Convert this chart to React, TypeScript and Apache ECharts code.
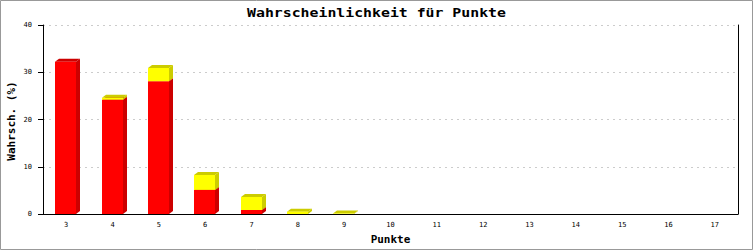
import React, { useEffect, useRef } from "react";
import * as echarts from "echarts";

const categories = ["3", "4", "5", "6", "7", "8", "9", "10", "11", "12", "13", "14", "15", "16", "17"];
const redValues = [32.2, 24.2, 28.1, 5.1, 0.85, 0, 0, 0, 0, 0, 0, 0, 0, 0, 0];
const yellowValues = [0, 0.4, 2.8, 3.15, 2.75, 0.5, 0.1, 0, 0, 0, 0, 0, 0, 0, 0];
const yTicks = { min: 0, max: 40, interval: 10 };
const titleText = "Wahrscheinlichkeit für Punkte";
const xName = "Punkte";
const yName = "Wahrsch. (%)";

const MONO = '"DejaVu Sans Mono", monospace';

function make3dRender(front: string, shade: string) {
  return (params: any, api: any) => {
    const i = api.value(0);
    const b = api.value(1);
    const t = api.value(2);
    if (!(t > b)) return null;
    const pb = api.coord([i, b]);
    const pt = api.coord([i, t]);
    const w = 21;
    const dx = 4;
    const dy = 3;
    const x0 = Math.round(pb[0]) - 11;
    const x1 = x0 + w;
    const yb = pb[1];
    const yt = pt[1];
    return {
      type: "group",
      children: [
        {
          type: "polygon",
          shape: { points: [[x1, yb], [x1 + dx, yb - dy], [x1 + dx, yt - dy], [x1, yt]] },
          style: { fill: shade },
        },
        {
          type: "polygon",
          shape: { points: [[x0, yt], [x0 + dx, yt - dy], [x1 + dx, yt - dy], [x1, yt]] },
          style: { fill: shade },
        },
        {
          type: "rect",
          shape: { x: x0, y: yt, width: w, height: yb - yt },
          style: { fill: front },
        },
      ],
    };
  };
}

export default function App() {
  const ref = useRef<HTMLDivElement>(null);
  useEffect(() => {
    if (!ref.current) return;
    const chart = echarts.init(ref.current, undefined, { renderer: "svg" });
    const redData = categories.map((_, i) => [i, 0, redValues[i]]);
    const yellowData = categories.map((_, i) => [i, redValues[i], redValues[i] + yellowValues[i]]);
    chart.setOption({
      animation: false,
      backgroundColor: "#ffffff",
      grid: { left: 43, right: 15, top: 25, bottom: 36, containLabel: false, outerBoundsMode: "none" },
      graphic: [
        {
          type: "rect",
          shape: { x: 0.5, y: 0.5, width: 752, height: 249 },
          style: { fill: "none", stroke: "#999999", lineWidth: 1 },
          silent: true,
        },
        {
          type: "text",
          x: 376.5,
          y: 13,
          scaleX: 1.29,
          style: {
            text: titleText,
            font: `bold 11.5px ${MONO}`,
            fill: "#000",
            textAlign: "center",
            textVerticalAlign: "middle",
          },
        },
        {
          type: "text",
          x: 11.5,
          y: 121,
          rotation: Math.PI / 2,
          style: {
            text: yName,
            font: `bold 11px ${MONO}`,
            fill: "#000",
            textAlign: "center",
            textVerticalAlign: "middle",
          },
        },
      ],
      xAxis: {
        type: "category",
        data: categories,
        boundaryGap: true,
        name: xName,
        nameLocation: "middle",
        nameGap: 20,
        nameTextStyle: { fontFamily: MONO, fontWeight: "bold", fontSize: 11, color: "#000" },
        axisLine: { show: true, lineStyle: { color: "#000", width: 1 } },
        axisTick: { show: false },
        axisLabel: { fontFamily: MONO, fontSize: 7, color: "#000", margin: 7, interval: 0 },
        splitLine: { show: false },
      },
      yAxis: [
        {
          type: "value",
          min: yTicks.min,
          max: yTicks.max,
          interval: yTicks.interval,
          axisLine: { show: true, lineStyle: { color: "#000", width: 1 } },
          axisTick: { show: true, length: 5, lineStyle: { color: "#000" } },
          axisLabel: { fontFamily: MONO, fontSize: 7, color: "#000", margin: 11 },
          splitLine: { show: true, lineStyle: { color: "#cccccc", type: [2, 4], width: 1 } },
        },
        {
          type: "value",
          position: "right",
          min: yTicks.min,
          max: yTicks.max,
          interval: yTicks.interval,
          axisLine: { show: true, lineStyle: { color: "#000", width: 1 } },
          axisTick: { show: false },
          axisLabel: { show: false },
          splitLine: { show: false },
        },
      ],
      series: [
        {
          type: "custom",
          name: "rot",
          renderItem: make3dRender("#ff0000", "#cc0000"),
          encode: { x: 0, y: 2 },
          data: redData,
          z: 2,
        },
        {
          type: "custom",
          name: "gelb",
          renderItem: make3dRender("#ffff00", "#cccc00"),
          encode: { x: 0, y: 2 },
          data: yellowData,
          z: 3,
        },
      ],
    });
    return () => chart.dispose();
  }, []);
  return (
    <div
      ref={ref}
      style={{ position: "fixed", left: 0, top: 0, width: 753, height: 250 }}
    />
  );
}
